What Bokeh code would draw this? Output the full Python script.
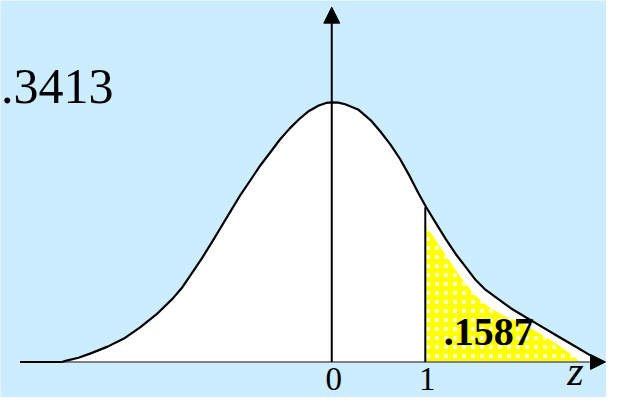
from bokeh.plotting import figure
from bokeh.models import Range1d, Arrow, NormalHead
from bokeh.core.properties import value
from bokeh.embed import file_html
from bokeh.resources import INLINE

# Normal curve outline (z, relative height)
curve_z = [-2.885, -2.847, -2.708, -2.570, -2.396, -2.222, -2.049, -1.875, -1.701, -1.597,
           -1.493, -1.389, -1.284, -1.180, -1.076, -0.972, -0.868, -0.764, -0.660,
           -0.556, -0.451, -0.347, -0.243, -0.139, -0.060, 0.0,
           0.070, 0.143, 0.281, 0.420, 0.524, 0.628, 0.732, 0.836, 0.924, 1.010,
           1.115, 1.219, 1.323, 1.427, 1.531, 1.635, 1.774, 1.914, 2.052, 2.226,
           2.399, 2.573, 2.747, 2.851, 2.885]
curve_h = [0.0, 0.004, 0.016, 0.034, 0.059, 0.090, 0.133, 0.183, 0.244, 0.288,
           0.343, 0.399, 0.460, 0.522, 0.584, 0.646, 0.701, 0.757, 0.806,
           0.856, 0.899, 0.936, 0.967, 0.988, 0.998, 1.0,
           0.999, 0.993, 0.973, 0.930, 0.886, 0.837, 0.781, 0.714, 0.652, 0.596,
           0.534, 0.473, 0.417, 0.368, 0.319, 0.281, 0.244, 0.207, 0.177, 0.140,
           0.103, 0.066, 0.029, 0.007, 0.0]

# Shaded upper tail (yellow)
tail_z = [1.003, 1.003, 1.115, 1.253, 1.393, 1.531, 1.670, 1.844, 2.052, 2.226, 2.399, 2.539, 2.643]
tail_h = [0.0, 0.529, 0.467, 0.393, 0.319, 0.257, 0.214, 0.177, 0.146, 0.109, 0.071, 0.034, 0.004]

cut_z = 1.0           # z = 1 cut line
cut_h = 0.596
tick_z = [0.0, 1.0]
tick_labels = ["0", "1"]
axis_label = "z"
area_left = ".3413"
area_right = ".1587"

BG = "#CCECFF"

p = figure(width=606, height=397, output_backend="svg", toolbar_location=None,
           x_range=Range1d(-3.5417, 2.9375), y_range=Range1d(-0.1370, 1.3926),
           min_border=0, background_fill_color=BG, border_fill_color=BG,
           outline_line_color=None)
p.axis.visible = False
p.xgrid.visible = False
p.ygrid.visible = False

# white area under the curve
p.varea(x=curve_z, y1=[0] * len(curve_z), y2=curve_h, fill_color="white")

# yellow tail with small white dots
p.patch(x=tail_z + [tail_z[-1]], y=tail_h + [0.0], fill_color="#FFFF00", line_color=None,
        hatch_pattern="dot", hatch_color="white", hatch_scale=9, hatch_weight=0.8,
        hatch_alpha=0.8)

# base line
p.line(x=[-3.333, -2.885], y=[0, 0], line_color="black", line_width=2)
p.line(x=[-2.885, 2.84], y=[0, 0], line_color="#808080", line_width=2)

# curve
p.line(x=curve_z, y=curve_h, line_color="black", line_width=2.2, line_join="round")

# cut line at z=1
p.line(x=[cut_z, cut_z], y=[0, cut_h], line_color="black", line_width=2)

# vertical axis with arrow
p.add_layout(Arrow(x_start=0, y_start=0, x_end=0, y_end=1.367,
                   line_color="black", line_width=2,
                   end=NormalHead(size=16, fill_color="black", line_color="black")))
# horizontal arrow head
p.add_layout(Arrow(x_start=2.80, y_start=0, x_end=2.927, y_end=0,
                   line_color="#808080", line_width=2,
                   end=NormalHead(size=15, fill_color="black", line_color="black")))

serif = value("Liberation Serif")

p.text(x=tick_z, y=[-0.065, -0.065], text=tick_labels, text_font=serif,
       text_font_size="33px", text_align="center", text_baseline="middle",
       x_offset=2, text_color="black")
p.text(x=[2.604], y=[-0.036], text=[axis_label], text_font=serif, text_font_size="42px",
       text_font_style="italic", text_align="center", text_baseline="middle",
       text_color="black")
p.text(x=[-2.333], y=[1.061], text=[area_left], text_font=serif, text_font_size="50px",
       text_align="right", text_baseline="middle", text_color="black")
p.text(x=[1.198], y=[0.115], text=[area_right], text_font=serif, text_font_size="40px",
       text_font_style="bold", text_align="left", text_baseline="middle",
       text_color="black")

open("out.html", "w").write(file_html(p, INLINE))
